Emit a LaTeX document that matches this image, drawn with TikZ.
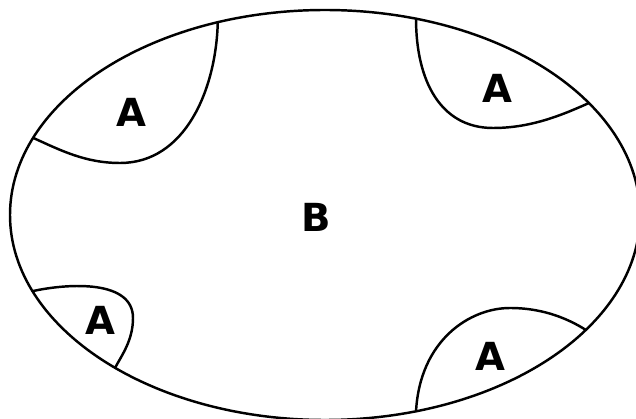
\documentclass[tikz,border=0pt]{standalone}
\usepackage{fontspec}
\setmainfont{DejaVu Sans}
\usetikzlibrary{positioning}

\begin{document}
\begin{tikzpicture}[
  x=0.02cm, y=0.02cm,
  outline/.style={draw, line width=1.4pt},
  border/.style={draw, line width=1.4pt, line cap=round},
  lbl/.style={font=\bfseries\fontsize{22}{22}\selectfont, inner sep=0pt},
]
\useasboundingbox (0,0) rectangle (636,419);

% outer set
\coordinate (ctr) at (325,204);
\draw[outline] (ctr) ellipse [x radius=315, y radius=205];

% where the parts meet the rim
\path (ctr) ++(109.9:315 and 205) coordinate (tl1);
\path (ctr) ++(157.9:315 and 205) coordinate (tl2);
\path (ctr) ++(73.2:315 and 205)  coordinate (tr1);
\path (ctr) ++(33.1:315 and 205)  coordinate (tr2);
\path (ctr) ++(201.8:315 and 205) coordinate (bl1);
\path (ctr) ++(228.2:315 and 205) coordinate (bl2);
\path (ctr) ++(286.8:315 and 205) coordinate (br1);
\path (ctr) ++(325.9:315 and 205) coordinate (br2);

% the four corner parts
\draw[border] (tl1) .. controls (216,329) and (185,256) .. (120,256)
                    .. controls (85,256) and (60,269) .. (tl2);
\draw[border] (tr1) .. controls (416,339) and (440,291) .. (493,291)
                    .. controls (530,291) and (560,303) .. (tr2);
\draw[border] (bl1) .. controls (70,136) and (133,139) .. (133,101)
                    .. controls (133,79) and (122,64) .. (bl2);
\draw[border] (br1) .. controls (420,79) and (470,111) .. (510,111)
                    .. controls (545,111) and (570,99) .. (br2);

% labels
\node[lbl] (atl) at (131,307) {A};
\node[lbl] (atr) at (497,331) {A};
\node[lbl] (abl) at (100,99)  {A};
\node[lbl] (abr) at (490,63)  {A};
\node[lbl] (b)   at (316,202) {B};
\end{tikzpicture}
\end{document}
